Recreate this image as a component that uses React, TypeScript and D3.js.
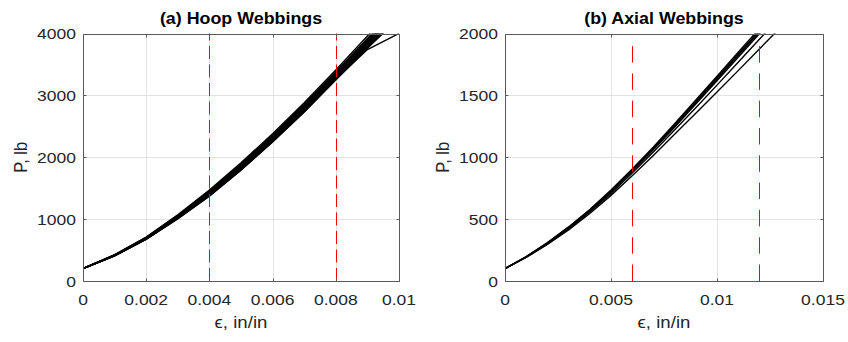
import React, { useEffect, useRef } from 'react';
import * as d3 from 'd3';

// strain steps (in/in)
const strainA = [0, 0.001, 0.002, 0.003, 0.004, 0.005, 0.006, 0.007, 0.008, 0.009, 0.01];
const strainB = [0, 0.001, 0.002, 0.003, 0.004, 0.005, 0.006, 0.007, 0.008, 0.009, 0.01, 0.011, 0.012, 0.013];

// hoop webbing load curves (lb)
const hoop1 = [200, 425, 710, 1070, 1470, 1910, 2380, 2880, 3410, 3960, 4500];
const hoop2 = [200, 420, 705, 1060, 1455, 1890, 2360, 2855, 3380, 3920, 4460];
const hoop3 = [200, 420, 700, 1055, 1445, 1880, 2345, 2840, 3360, 3895, 4430];
const hoop4 = [200, 418, 698, 1050, 1440, 1870, 2335, 2825, 3345, 3875, 4410];
const hoop5 = [200, 415, 695, 1045, 1430, 1860, 2320, 2810, 3330, 3860, 4390];
const hoop6 = [200, 415, 690, 1040, 1420, 1850, 2310, 2800, 3315, 3840, 4370];
const hoop7 = [200, 412, 688, 1035, 1415, 1840, 2300, 2785, 3300, 3825, 4350];
const hoop8 = [200, 410, 685, 1030, 1405, 1830, 2290, 2775, 3290, 3810, 4330];
const hoop9 = [200, 410, 680, 1020, 1395, 1820, 2275, 2760, 3275, 3790, 4300];
const hoop10 = [200, 408, 678, 1015, 1385, 1805, 2260, 2745, 3260, 3770, 4280];
const hoop11 = [200, 405, 675, 1010, 1375, 1795, 2250, 2730, 3250, 3760, 4250];
const hoop12 = [200, 405, 672, 1005, 1370, 1790, 2245, 2730, 3260, 3740, 4000];
const hoopCurves = [hoop1, hoop2, hoop3, hoop4, hoop5, hoop6, hoop7, hoop8, hoop9, hoop10, hoop11, hoop12];

// axial webbing load curves (lb)
const axial1 = [100, 198, 310, 437, 578, 735, 905, 1083, 1270, 1462, 1655, 1848, 2040, 2230];
const axial2 = [100, 196, 307, 433, 573, 729, 898, 1075, 1260, 1450, 1642, 1834, 2025, 2215];
const axial3 = [100, 195, 305, 430, 570, 725, 893, 1068, 1252, 1440, 1630, 1822, 2012, 2200];
const axial4 = [100, 194, 303, 427, 566, 720, 887, 1060, 1243, 1430, 1618, 1808, 1998, 2190];
const axial5 = [100, 192, 300, 420, 557, 708, 872, 1043, 1220, 1400, 1583, 1768, 1953, 2140];
const axial6 = [100, 190, 295, 412, 545, 692, 850, 1015, 1185, 1355, 1527, 1700, 1875, 2050];
const axialCurves = [axial1, axial2, axial3, axial4, axial5, axial6];

const xTicksA = [0, 0.002, 0.004, 0.006, 0.008, 0.01];
const xTickLabelsA = ['0', '0.002', '0.004', '0.006', '0.008', '0.01'];
const yTicksA = [0, 1000, 2000, 3000, 4000];
const xTicksB = [0, 0.005, 0.01, 0.015];
const xTickLabelsB = ['0', '0.005', '0.01', '0.015'];
const yTicksB = [0, 500, 1000, 1500, 2000];

// red dashed reference strains
const markersA = [0.004, 0.008];
const markersB = [0.006, 0.012];

const FONT = '"Liberation Sans", Arial, Helvetica, sans-serif';
const SX = 1.13;

const App: React.FC = () => {
    const svgRef = useRef<SVGSVGElement | null>(null);

    useEffect(() => {
        if (!svgRef.current) return;
        const svg = d3.select(svgRef.current);
        svg.selectAll('*').remove();

        const addText = (
            g: d3.Selection<any, unknown, null, undefined>,
            x: number, y: number, str: string,
            size: number, anchor: string, weight = 'normal', rotate = 0
        ) => {
            g.append('text')
                .attr('transform', `translate(${x},${y}) scale(${SX},1) rotate(${rotate})`)
                .attr('text-anchor', anchor)
                .attr('font-family', FONT)
                .attr('font-size', size)
                .attr('font-weight', weight)
                .attr('fill', weight === 'bold' ? '#000' : '#262626')
                .text(str);
        };

        const drawPanel = (opts: {
            id: string; left: number; right: number; top: number; bottom: number;
            xMax: number; yMax: number; xTicks: number[]; xLabels: string[]; yTicks: number[];
            strain: number[]; curves: number[][]; markers: number[]; markerTop: number;
            dash: string; title: string;
        }) => {
            const x = d3.scaleLinear().domain([0, opts.xMax]).range([opts.left, opts.right]);
            const y = d3.scaleLinear().domain([0, opts.yMax]).range([opts.bottom, opts.top]);
            const g = svg.append('g');

            svg.append('clipPath').attr('id', `clip-${opts.id}`)
                .append('rect')
                .attr('x', opts.left).attr('y', opts.top)
                .attr('width', opts.right - opts.left).attr('height', opts.bottom - opts.top);

            // grid
            g.selectAll('.gx').data(opts.xTicks.slice(1, -1)).enter().append('line')
                .attr('x1', (d) => Math.round(x(d)) + 0.5).attr('x2', (d) => Math.round(x(d)) + 0.5)
                .attr('y1', opts.top).attr('y2', opts.bottom)
                .attr('stroke', '#e3e3e3').attr('stroke-width', 1);
            g.selectAll('.gy').data(opts.yTicks.slice(1, -1)).enter().append('line')
                .attr('y1', (d) => Math.round(y(d)) + 0.5).attr('y2', (d) => Math.round(y(d)) + 0.5)
                .attr('x1', opts.left).attr('x2', opts.right)
                .attr('stroke', '#e3e3e3').attr('stroke-width', 1);

            // curves
            const line = d3.line<number>()
                .x((_, i) => x(opts.strain[i]))
                .y((d) => y(d));
            g.append('g').attr('clip-path', `url(#clip-${opts.id})`)
                .selectAll('path').data(opts.curves).enter().append('path')
                .attr('d', (d) => line(d))
                .attr('fill', 'none').attr('stroke', '#000').attr('stroke-width', 1.4);

            // red dashed markers
            g.selectAll('.mk').data(opts.markers).enter().append('line')
                .attr('x1', (d) => Math.round(x(d)) + 0.5).attr('x2', (d) => Math.round(x(d)) + 0.5)
                .attr('y1', y(0)).attr('y2', y(opts.markerTop))
                .attr('stroke', '#ff0000').attr('stroke-width', 1)
                .attr('stroke-dasharray', opts.dash);

            // box
            const L = Math.round(opts.left) + 0.5, R = Math.round(opts.right) + 0.5;
            const T = Math.round(opts.top) + 0.5, B = Math.round(opts.bottom) + 0.5;
            g.append('path')
                .attr('d', `M${L},${T}H${R}V${B}H${L}Z`)
                .attr('fill', 'none').attr('stroke', '#5a5a5a').attr('stroke-width', 1);

            // ticks (inward, all sides)
            const tl = 3;
            opts.xTicks.forEach((t) => {
                const px = Math.round(x(t)) + 0.5;
                g.append('line').attr('x1', px).attr('x2', px).attr('y1', B).attr('y2', B - tl)
                    .attr('stroke', '#5a5a5a');
                g.append('line').attr('x1', px).attr('x2', px).attr('y1', T).attr('y2', T + tl)
                    .attr('stroke', '#5a5a5a');
            });
            opts.yTicks.forEach((t) => {
                const py = Math.round(y(t)) + 0.5;
                g.append('line').attr('y1', py).attr('y2', py).attr('x1', L).attr('x2', L + tl)
                    .attr('stroke', '#5a5a5a');
                g.append('line').attr('y1', py).attr('y2', py).attr('x1', R).attr('x2', R - tl)
                    .attr('stroke', '#5a5a5a');
            });

            // tick labels
            opts.xTicks.forEach((t, i) => addText(g, x(t), opts.bottom + 24, opts.xLabels[i], 15.5, 'middle'));
            opts.yTicks.forEach((t) => addText(g, opts.left - 7, y(t) + 5.5, String(t), 15.5, 'end'));

            // axis labels and title
            const cx = (opts.left + opts.right) / 2;
            addText(g, cx, 328, 'ϵ, in/in', 16.5, 'middle');
            addText(g, opts.left - 56, (opts.top + opts.bottom) / 2, 'P, lb', 16.5, 'middle', 'normal', -90);
            addText(g, cx, 24, opts.title, 15.8, 'middle', 'bold');
        };

        drawPanel({
            id: 'a', left: 83, right: 399, top: 33.5, bottom: 281,
            xMax: 0.01, yMax: 4000, xTicks: xTicksA, xLabels: xTickLabelsA, yTicks: yTicksA,
            strain: strainA, curves: hoopCurves, markers: markersA, markerTop: 4000,
            dash: '13,5.5', title: '(a) Hoop Webbings',
        });
        drawPanel({
            id: 'b', left: 505, right: 823, top: 33.5, bottom: 281,
            xMax: 0.015, yMax: 2000, xTicks: xTicksB, xLabels: xTickLabelsB, yTicks: yTicksB,
            strain: strainB, curves: axialCurves, markers: markersB, markerTop: 1910,
            dash: '16.5,10.8', title: '(b) Axial Webbings',
        });
    }, []);

    return (
        <svg ref={svgRef} width={848} height={342}
            style={{ position: 'absolute', left: 0, top: 0, background: '#fff' }} />
    );
};

export default App;
